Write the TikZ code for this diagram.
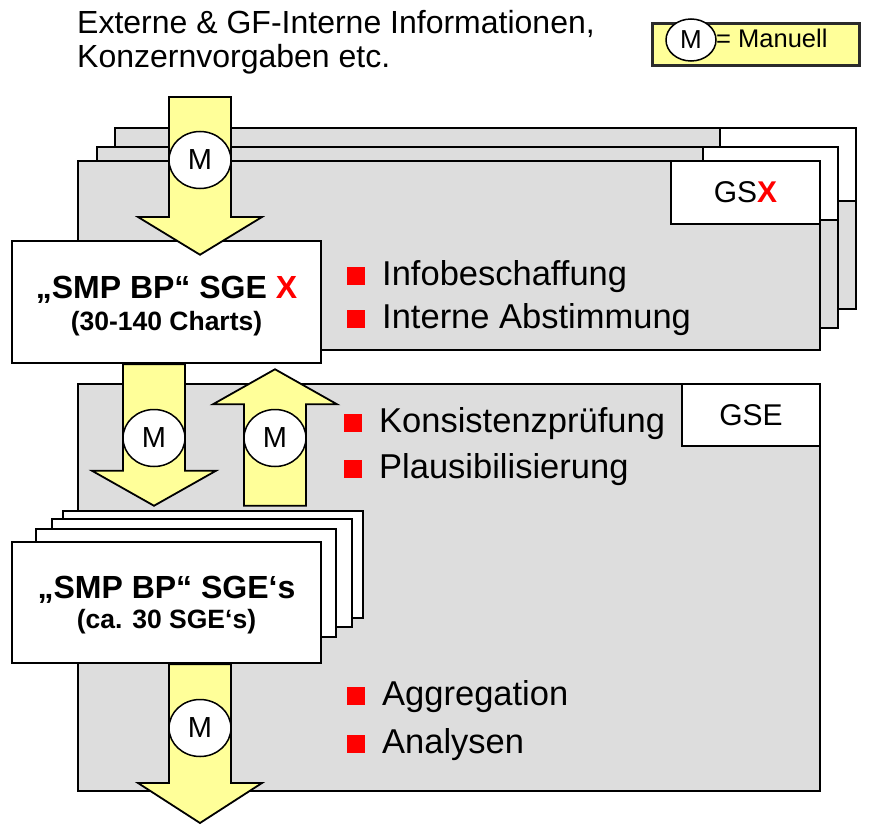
\documentclass[tikz,border=0pt]{standalone}
\usepackage{fontspec}
\setmainfont{Liberation Sans}
\usetikzlibrary{calc, positioning, shapes.geometric}
\definecolor{panelgray}{HTML}{DDDDDD}
\definecolor{manyellow}{HTML}{FFFF99}
\definecolor{legendframe}{HTML}{2B2B2B}
\tikzset{
x=1pt, y=-1pt, % pixel-like coordinates, y grows downwards
panel/.style={draw=black, line width=2.5pt, fill=panelgray, inner sep=0pt}, % grey process panels
tab/.style={draw=black, line width=2.5pt, fill=white, inner sep=0pt, font=\fontsize{30}{36}\selectfont}, % white corner labels
smpbox/.style={draw=black, line width=2.5pt, fill=white, inner sep=0pt}, % SMP BP boxes
title/.style={anchor=base, inner sep=0pt, font=\fontsize{32}{38}\selectfont\bfseries},
subtitle/.style={anchor=base, inner sep=0pt, font=\fontsize{26.5}{32}\selectfont\bfseries},
manual/.style={ellipse, draw=black, line width=1.5pt, fill=white, inner sep=0pt, minimum width=62pt, minimum height=57pt, font=\fontsize{29}{34}\selectfont}, % the M marks
fatarrow/.style={draw=black, line width=1.8pt, fill=manyellow, line join=miter}, % block arrows
item/.style={anchor=base west, inner sep=0pt, font=\fontsize{34.5}{40}\selectfont}, % bullet lines
}
\newcommand{\redsq}{\textcolor{red}{\rule{18pt}{18pt}}\hspace{17pt}}
% block arrow: start, head base, tip
\newcommand{\manarrow}[3]{\draw[fatarrow] let \p1=(#1), \p2=(#2), \p3=(#3) in ({\x1-31pt},\y1) -- ({\x1-31pt},\y2) -- ({\x1-62pt},\y2) -- (\x1,\y3) -- ({\x1+62pt},\y2) -- ({\x1+31pt},\y2) -- ({\x1+31pt},\y1) -- cycle;}

\begin{document}
\begin{tikzpicture}
\useasboundingbox (0,0) rectangle (885,824);
% legend and input
\node[draw=legendframe, line width=3pt, fill=manyellow, minimum width=207pt, minimum height=42pt, inner sep=0pt] (legend) at (755.5,45) {};
\node[ellipse, draw=black, line width=1.5pt, fill=white, inner sep=0pt, minimum width=50pt, minimum height=42pt, font=\fontsize{26}{30}\selectfont] (mlegend) at (691,40) {M};
\node[anchor=base west, inner sep=0pt, font=\fontsize{25.5}{30}\selectfont] (manuell) at (716,48) {= Manuell};
\node[anchor=base west, inner sep=0pt, font=\fontsize{32}{34}\selectfont] (info1) at (77,34) {Externe \& GF-Interne Informationen,};
\node[anchor=base west, inner sep=0pt, font=\fontsize{32}{34}\selectfont] (info2) at (77,68) {Konzernvorgaben etc.};
% GSX stack
\node[panel, minimum width=741pt, minimum height=181pt] (gsx3) at (485.5,218.5) {};
\node[tab, minimum width=136pt, minimum height=73pt] (tab3) at (788,164.5) {};
\node[panel, minimum width=741pt, minimum height=181pt] (gsx2) at (467.5,237.5) {};
\node[tab, minimum width=135pt, minimum height=73pt] (tab2) at (770.5,183.5) {};
\node[panel, minimum width=742pt, minimum height=189pt] (gsx1) at (449,255.5) {};
\node[tab, minimum width=149pt, minimum height=63pt] (tab1) at (745.5,192.5) {GS\textcolor{red}{\bfseries X}};
% GSE
\node[panel, minimum width=742pt, minimum height=407pt] (gse) at (449,587.5) {};
\node[tab, minimum width=138pt, minimum height=62pt] (gsetab) at (751,415) {GSE};
% SMP BP boxes
\node[smpbox, minimum width=309pt, minimum height=122pt] (sgex) at (166.5,302) {};
\node[title] (sgexname) at (166.5,298) {„SMP BP“ SGE \textcolor{red}{X}};
\node[subtitle] (sgexcount) at (166.5,330) {(30-140 Charts)};
\node[smpbox, minimum width=300pt, minimum height=107pt] (sges4) at (213,564.5) {};
\node[smpbox, minimum width=300pt, minimum height=108pt] (sges3) at (202,573) {};
\node[smpbox, minimum width=300pt, minimum height=108pt] (sges2) at (186,583) {};
\node[smpbox, minimum width=309pt, minimum height=121pt] (sges) at (166.5,602.5) {};
\node[title] (sgesname) at (166.5,598) {„SMP BP“ SGE‘s};
\node[subtitle] (sgescount) at (166.5,628) {(ca. 30 SGE‘s)};
% arrows
\coordinate (infrom) at (200,97);
\coordinate (inbase) at (200,217);
\coordinate (intip) at ($(sgex.north)+(33.5,15)$);
\coordinate (downfrom) at ($(sgex.south)+(-12.5,0)$);
\coordinate (downbase) at ($(sges4.north)+(-59,-39)$);
\coordinate (downtip) at ($(sges4.north)+(-59,-4)$);
\coordinate (upfrom) at ($(sges4.north)+(62,-4)$);
\coordinate (upbase) at ($(sgex.south)+(108.5,40)$);
\coordinate (uptip) at ($(sgex.south)+(108.5,5)$);
\coordinate (outfrom) at ($(sges.south)+(33.5,0)$);
\coordinate (outbase) at (200,783);
\coordinate (outtip) at (200,823);
\manarrow{infrom}{inbase}{intip}
\manarrow{downfrom}{downbase}{downtip}
\manarrow{upfrom}{upbase}{uptip}
\manarrow{outfrom}{outbase}{outtip}
\node[manual] (m1) at (200,160) {M};
\node[manual] (m2) at (154,438) {M};
\node[manual] (m3) at (275,438) {M};
\node[manual] (m4) at (200,728) {M};
% bullets
\node[item] (b1) at (347,285) {\redsq Infobeschaffung};
\node[item] (b2) at (347,328) {\redsq Interne Abstimmung};
\node[item] (b3) at (344,432) {\redsq Konsistenzprüfung};
\node[item] (b4) at (344,478) {\redsq Plausibilisierung};
\node[item] (b5) at (347,705) {\redsq Aggregation};
\node[item] (b6) at (347,753) {\redsq Analysen};
\end{tikzpicture}
\end{document}
